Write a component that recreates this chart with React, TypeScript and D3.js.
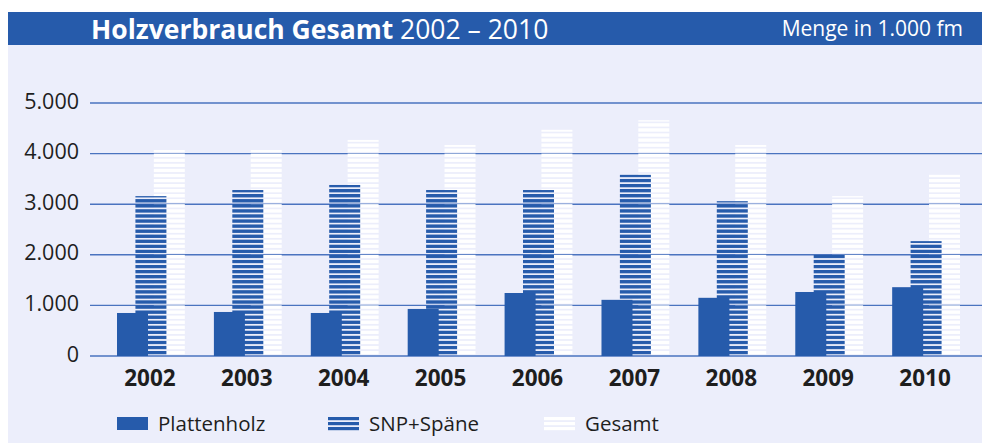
import { useEffect } from 'react';
import * as d3 from 'd3';

const years = ['2002', '2003', '2004', '2005', '2006', '2007', '2008', '2009', '2010'];
const plattenholz = [850, 870, 850, 930, 1245, 1110, 1150, 1265, 1360];
const snpSpaene = [3160, 3280, 3380, 3280, 3280, 3580, 3060, 2000, 2270];
const gesamt = [4070, 4070, 4270, 4170, 4470, 4660, 4170, 3160, 3580];
const yTicks = [0, 1000, 2000, 3000, 4000, 5000];
const seriesNames = ['Plattenholz', 'SNP+Späne', 'Gesamt'];

const W = 982;
const H = 443;
const blue = '#265bab';
const panel = '#eceefb';
const font = "'Open Sans', 'Noto Sans', sans-serif";

const de = d3.formatLocale({ decimal: ',', thousands: '.', grouping: [3], currency: ['', ' €'] });
const fmt = de.format(',');

export default function App() {
  useEffect(() => {
    document.body.style.margin = '0';
  }, []);

  const y = d3.scaleLinear().domain([0, 5000]).range([356, 103]);
  const x = d3.scaleBand<string>().domain(years).range([117, 960]).paddingInner(0.3).paddingOuter(0);
  const barW = 31;
  const sub = d3.scaleLinear().domain([0, 2]).range([0, x.bandwidth() - barW]);
  const period = y(0) - y(100);
  const stripe = period * 0.66;

  const legendX = [117, 328, 544];

  return (
    <svg width={W} height={H} style={{ display: 'block' }} fontFamily={font}>
      <defs>
        <pattern id="snp" patternUnits="userSpaceOnUse" width={10} height={period} y={y(0)}>
          <rect x={0} y={0} width={10} height={stripe} fill={blue} />
        </pattern>
        <pattern id="ges" patternUnits="userSpaceOnUse" width={10} height={period} y={y(0)}>
          <rect x={0} y={0} width={10} height={stripe} fill="#ffffff" />
        </pattern>
      </defs>
      <rect x={0} y={0} width={W} height={H} fill="#ffffff" />
      <rect x={8} y={45} width={W - 8} height={H - 45} fill={panel} />
      <rect x={8} y={12} width={W - 8} height={33} fill={blue} />
      <text x={91} y={38.5} fill="#ffffff" fontSize={26.5}>
        <tspan fontWeight="bold">Holzverbrauch Gesamt</tspan>
        <tspan> 2002 – 2010</tspan>
      </text>
      <text x={963} y={36} fill="#ffffff" fontSize={21} textAnchor="end">Menge in 1.000 fm</text>

      {yTicks.map(t => (
        <g key={t}>
          <line x1={90} x2={W} y1={y(t)} y2={y(t)} stroke="#4a73bf" strokeWidth={1.4} />
          <text x={79} y={y(t) + 5.5} textAnchor="end" fontSize={21.5} fill="#1e1e1e">{fmt(t)}</text>
        </g>
      ))}

      {years.map((yr, i) => {
        const x0 = x(yr) as number;
        return (
          <g key={yr}>
            <rect x={x0 + sub(2)} y={y(gesamt[i])} width={barW} height={y(0) - y(gesamt[i])} fill="url(#ges)" />
            <rect x={x0 + sub(1)} y={y(snpSpaene[i])} width={barW} height={y(0) - y(snpSpaene[i])} fill="url(#snp)" />
            <rect x={x0 + sub(0)} y={y(plattenholz[i])} width={barW} height={y(0) - y(plattenholz[i])} fill={blue} />
            <text x={x0 + x.bandwidth() / 2 - 1} y={386} textAnchor="middle" fontSize={22.5} fontWeight="bold" fill="#1e1e1e">{yr}</text>
          </g>
        );
      })}

      {seriesNames.map((name, i) => (
        <g key={name} transform={`translate(${legendX[i]},417)`}>
          {i === 0 && <rect x={0} y={0} width={barW} height={13} fill={blue} />}
          {i > 0 && [0, 1, 2].map(k => (
            <rect key={k} x={0} y={k * 5} width={barW} height={3.2} fill={i === 1 ? blue : '#ffffff'} />
          ))}
          <text x={41} y={13.5} fontSize={20.5} fill="#1e1e1e">{name}</text>
        </g>
      ))}
    </svg>
  );
}
